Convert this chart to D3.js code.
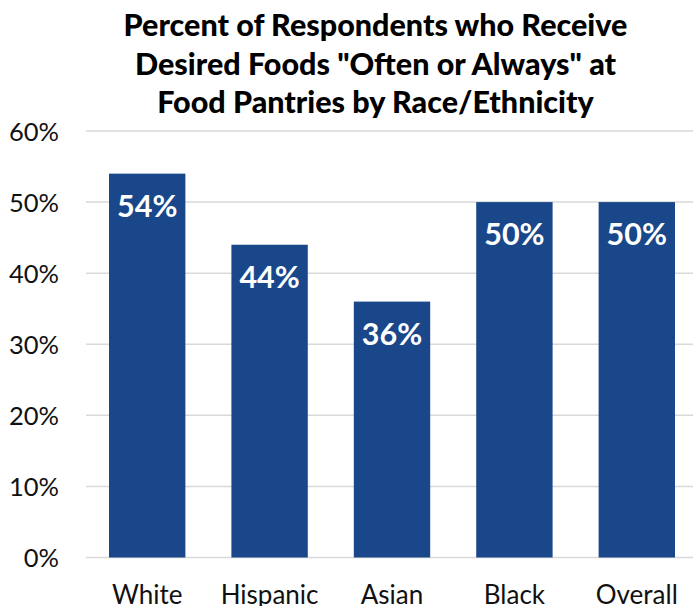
<!DOCTYPE html>
<html>
<head>
<meta charset="utf-8">
<script src="https://cdn.jsdelivr.net/npm/d3@7"></script>
<style>
  html, body { margin: 0; padding: 0; background: #fff; }
  svg { display: block; }
  text { font-family: Lato, "Open Sans", sans-serif; }
</style>
</head>
<body>
<svg id="chart" width="693" height="606"></svg>
<script>
// Share of respondents receiving desired foods "often or always", by group
const categories = ["White", "Hispanic", "Asian", "Black", "Overall"];
const values = [54, 44, 36, 50, 50];
const yTicks = [0, 10, 20, 30, 40, 50, 60];
const titleLines = [
  "Percent of Respondents who Receive",
  "Desired Foods \"Often or Always\" at",
  "Food Pantries by Race/Ethnicity"
];

const svg = d3.select("#chart");
const W = 693;

const y = d3.scaleLinear().domain([0, 60]).range([557.5, 131]);
const x = d3.scaleBand().domain(categories).range([109, 675])
  .paddingInner(0.376).paddingOuter(0);

// Gridlines
svg.append("g")
  .selectAll("line")
  .data(yTicks)
  .join("line")
  .attr("x1", 86).attr("x2", W)
  .attr("y1", d => y(d)).attr("y2", d => y(d))
  .attr("stroke", "#d9d9d9")
  .attr("stroke-width", 1.5);

// Y axis labels
const yAxis = d3.axisLeft(y).tickValues(yTicks).tickFormat(d => d + "%").tickSize(0).tickPadding(0);
const yg = svg.append("g").attr("transform", "translate(59,0)").call(yAxis);
yg.select(".domain").remove();
yg.selectAll("text")
  .attr("font-family", "Lato, sans-serif")
  .attr("font-size", 25.5)
  .attr("fill", "#111")
  .attr("dy", "0.36em");

// Bars
svg.append("g")
  .selectAll("rect")
  .data(values)
  .join("rect")
  .attr("x", (d, i) => x(categories[i]))
  .attr("width", x.bandwidth())
  .attr("y", d => y(d))
  .attr("height", d => y(0) - y(d))
  .attr("fill", "#1a478a");

// Value labels inside bars
svg.append("g")
  .selectAll("text")
  .data(values)
  .join("text")
  .attr("x", (d, i) => x(categories[i]) + x.bandwidth() / 2)
  .attr("y", d => y(d) + 43)
  .attr("text-anchor", "middle")
  .attr("font-size", 30.5)
  .attr("font-weight", 700)
  .attr("fill", "#fff")
  .text(d => d + "%");

// Category labels
const xAxis = d3.axisBottom(x).tickSize(0).tickPadding(0);
const xg = svg.append("g").attr("transform", "translate(0,604)").call(xAxis);
xg.select(".domain").remove();
xg.selectAll("text")
  .attr("font-family", "Lato, sans-serif")
  .attr("font-size", 26)
  .attr("fill", "#111")
  .attr("dy", 0);

// Title
svg.append("text")
  .attr("x", 375.5)
  .attr("text-anchor", "middle")
  .attr("font-size", 30.5)
  .attr("font-weight", 900)
  .attr("fill", "#000")
  .selectAll("tspan")
  .data(titleLines)
  .join("tspan")
  .attr("x", 375.5)
  .attr("y", (d, i) => 36 + i * 38.5)
  .text(d => d);
</script>
</body>
</html>
